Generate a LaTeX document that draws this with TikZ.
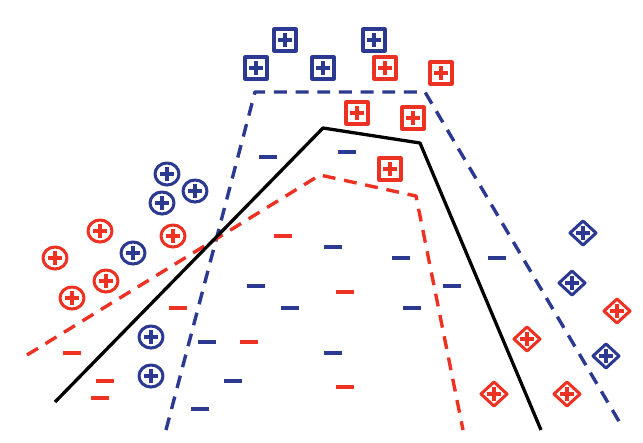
\documentclass[tikz,border=0pt]{standalone}
\usetikzlibrary{shapes.geometric}
\definecolor{cblue}{RGB}{43,57,144}
\definecolor{cred}{RGB}{237,50,36}
\tikzset{
  markbase/.style={inner sep=0pt, line width=2.6pt,
    path picture={\draw[line width=3.2pt,#1]
      ([xshift=-0.21cm]path picture bounding box.center) -- ([xshift=0.21cm]path picture bounding box.center)
      ([yshift=-0.21cm]path picture bounding box.center) -- ([yshift=0.21cm]path picture bounding box.center);}},
  sqmark/.style={markbase=#1, draw=#1, rectangle, minimum size=0.66cm},
  ringmark/.style={markbase=#1, draw=#1, ellipse, minimum width=0.72cm, minimum height=0.66cm},
  diamark/.style={markbase=#1, draw=#1, diamond, minimum width=0.82cm, minimum height=0.76cm},
  negmark/.style={fill=#1, inner sep=0pt, minimum width=0.56cm, minimum height=0.11cm},
  bound/.style={line width=2.9pt, dash pattern=on 11pt off 7.5pt}
}
\begin{document}
\begin{tikzpicture}[x=0.03cm, y=-0.03cm, line join=round]
  \useasboundingbox (0,0) rectangle (643,442);
  % separating lines
  \coordinate (k1) at (55,402); \coordinate (k2) at (323,128);
  \coordinate (k3) at (420,143); \coordinate (k4) at (541,430);
  \coordinate (b1) at (166,430); \coordinate (b2) at (255,92);
  \coordinate (b3) at (425,92); \coordinate (b4) at (620,423);
  \coordinate (r1) at (27,355); \coordinate (r2) at (320,175);
  \coordinate (r3) at (416,196); \coordinate (r4) at (463,430);
  \draw[bound, cblue] (b1)--(b2)--(b3)--(b4);
  \draw[bound, cred] (r1)--(r2)--(r3)--(r4);
  \draw[line width=2.8pt] (k1)--(k2)--(k3)--(k4);
  % squares
  \foreach \x/\y [count=\i] in {285/40,256/68,323/68,374/40}
    \node[sqmark=cblue] (sqb\i) at (\x,\y) {};
  \foreach \x/\y [count=\i] in {385/68,441/73,357/113,413/118,390/169}
    \node[sqmark=cred] (sqr\i) at (\x,\y) {};
  % circles
  \foreach \x/\y [count=\i] in {167/174,195/191,162/203,133/253,151/337,151/376}
    \node[ringmark=cblue] (cib\i) at (\x,\y) {};
  \foreach \x/\y [count=\i] in {100/231,173/236,55/258,106/281,72/298}
    \node[ringmark=cred] (cir\i) at (\x,\y) {};
  % diamonds
  \foreach \x/\y [count=\i] in {583/233,572/283,606/356}
    \node[diamark=cblue] (dib\i) at (\x,\y) {};
  \foreach \x/\y [count=\i] in {617/311,527/339,494/394,567/394}
    \node[diamark=cred] (dir\i) at (\x,\y) {};
  % minus
  \foreach \x/\y [count=\i] in {268/157,347/152,256/286,290/308,207/342,233/381,200/409,333/247,401/258,497/258,452/286,412/308,333/353}
    \node[negmark=cblue] (mib\i) at (\x,\y) {};
  \foreach \x/\y [count=\i] in {283/236,178/308,249/342,72/353,105/381,100/398,345/292,345/387}
    \node[negmark=cred] (mir\i) at (\x,\y) {};
\end{tikzpicture}
\end{document}
